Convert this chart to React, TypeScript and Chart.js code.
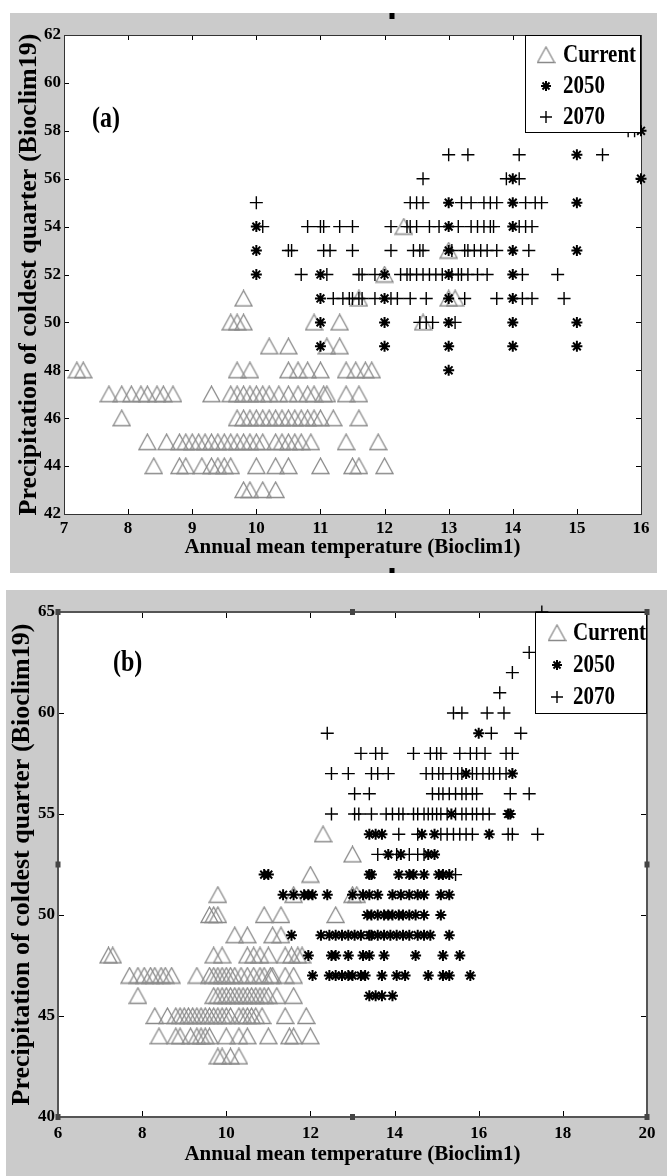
import React, { useEffect, useRef } from 'react';
import { Chart, registerables } from 'chart.js';

Chart.register(...registerables);

type Row = [number, number[]]; // [precipitation value, temperatures at that value]

// ---------------- data ----------------
const currentRows: Row[] = [
  [43, [9.8, 9.9, 10.1, 10.3]],
  [44, [8.4, 8.8, 8.9, 9.15, 9.3, 9.4, 9.5, 9.6, 10.0, 10.3, 10.5, 11.0, 11.5, 11.6, 12.0]],
  [45, [8.3, 8.6, 8.8, 8.9, 9.0, 9.1, 9.2, 9.3, 9.4, 9.5, 9.6, 9.7, 9.8, 9.9, 10.0, 10.1, 10.3, 10.4, 10.5, 10.6, 10.7, 10.85, 11.4, 11.9]],
  [46, [7.9, 9.7, 9.8, 9.9, 10.0, 10.1, 10.2, 10.3, 10.4, 10.5, 10.6, 10.7, 10.8, 10.9, 11.0, 11.2, 11.6]],
  [47, [7.7, 7.9, 8.05, 8.2, 8.3, 8.45, 8.55, 8.7, 9.3, 9.6, 9.7, 9.8, 9.9, 10.0, 10.1, 10.2, 10.35, 10.5, 10.65, 10.8, 10.9, 11.05, 11.1, 11.4, 11.6]],
  [48, [7.2, 7.3, 9.7, 9.9, 10.5, 10.65, 10.8, 11.0, 11.4, 11.55, 11.7, 11.8]],
  [49, [10.2, 10.5, 11.1, 11.3]],
  [50, [9.6, 9.7, 9.8, 10.9, 11.3, 12.6]],
  [51, [9.8, 11.6, 13.0, 13.1]],
  [52, [12.0]],
  [53, [13.0]],
  [54, [12.3]],
];

const a2050Rows: Row[] = [
  [48, [13.0]],
  [49, [11.0, 12.0, 13.0, 14.0, 15.0]],
  [50, [11.0, 12.0, 13.0, 14.0, 15.0]],
  [51, [11.0, 12.0, 13.0, 14.0]],
  [52, [10.0, 11.0, 12.0, 13.0, 14.0]],
  [53, [10.0, 13.0, 14.0, 15.0]],
  [54, [10.0, 13.0, 14.0]],
  [55, [13.0, 14.0, 15.0]],
  [56, [14.0, 16.0]],
  [57, [15.0]],
  [58, [16.0]],
];

const a2070Rows: Row[] = [
  [50, [12.55, 12.65, 12.75, 13.1]],
  [51, [11.2, 11.35, 11.45, 11.5, 11.6, 11.65, 11.85, 12.1, 12.2, 12.4, 12.65, 13.25, 13.75, 14.15, 14.3, 14.8]],
  [52, [10.7, 11.1, 11.6, 11.65, 11.85, 12.25, 12.35, 12.4, 12.5, 12.6, 12.7, 12.8, 12.9, 13.05, 13.15, 13.2, 13.3, 13.45, 13.6, 14.15, 14.7]],
  [53, [10.5, 10.55, 11.05, 11.15, 11.5, 12.1, 12.45, 12.55, 12.6, 13.05, 13.25, 13.3, 13.4, 13.5, 13.6, 13.75, 14.25]],
  [54, [10.1, 10.8, 11.0, 11.05, 11.3, 11.5, 12.1, 12.35, 12.4, 12.5, 12.7, 12.85, 13.15, 13.35, 13.45, 13.55, 13.65, 13.7, 14.1, 14.2, 14.3]],
  [55, [10.0, 12.4, 12.5, 12.6, 13.2, 13.35, 13.55, 13.65, 13.75, 14.2, 14.35, 14.45]],
  [56, [12.6, 13.9, 14.1]],
  [57, [13.0, 13.3, 14.1, 15.4]],
  [58, [15.8, 15.9]],
];

const b2050Rows: Row[] = [
  [46, [13.4, 13.55, 13.7, 13.95]],
  [47, [12.05, 12.45, 12.6, 12.75, 12.9, 13.0, 13.2, 13.3, 13.7, 14.05, 14.25, 14.8, 15.15, 15.3, 15.8]],
  [48, [11.95, 12.5, 12.6, 12.9, 13.25, 13.4, 13.75, 14.5, 15.15, 15.55]],
  [49, [11.55, 12.25, 12.45, 12.6, 12.75, 12.9, 13.05, 13.2, 13.4, 13.45, 13.6, 13.75, 13.9, 14.05, 14.2, 14.35, 14.55, 14.7, 14.85, 15.3]],
  [50, [13.35, 13.45, 13.6, 13.75, 13.85, 13.95, 14.1, 14.2, 14.35, 14.5, 14.7, 15.1]],
  [51, [11.35, 11.6, 11.85, 11.95, 12.05, 12.4, 13.0, 13.25, 13.4, 13.6, 13.95, 14.15, 14.35, 14.55, 14.7, 15.1, 15.3]],
  [52, [10.9, 11.0, 13.4, 13.45, 14.1, 14.35, 14.45, 14.7, 15.05, 15.15, 15.3]],
  [53, [13.85, 14.15, 14.8, 14.95]],
  [54, [13.4, 13.55, 13.7, 14.65, 14.95, 16.25]],
  [55, [15.35, 16.7, 16.75]],
  [57, [15.7, 16.8]],
  [59, [16.0]],
];

const b2070Rows: Row[] = [
  [52, [15.45]],
  [53, [13.6, 14.05, 14.35, 14.55, 14.7]],
  [54, [14.1, 14.55, 15.1, 15.25, 15.4, 15.55, 15.7, 15.85, 16.7, 16.8, 17.4]],
  [55, [12.5, 13.05, 13.15, 13.45, 13.8, 13.95, 14.1, 14.2, 14.45, 14.55, 14.7, 14.8, 14.9, 15.0, 15.1, 15.25, 15.45, 15.6, 15.7, 15.85, 15.95, 16.1, 16.25]],
  [56, [13.05, 13.4, 14.9, 15.05, 15.15, 15.3, 15.45, 15.6, 15.7, 15.85, 15.95, 16.75, 17.2]],
  [57, [12.5, 12.9, 13.45, 13.6, 13.85, 14.75, 14.9, 15.05, 15.15, 15.35, 15.5, 15.6, 15.85, 15.95, 16.1, 16.25, 16.35, 16.5, 16.65]],
  [58, [13.2, 13.55, 13.7, 14.45, 14.85, 15.0, 15.1, 15.55, 15.8, 15.95, 16.15, 16.65, 16.8]],
  [59, [12.4, 16.3, 17.0]],
  [60, [15.4, 15.6, 16.2, 16.6]],
  [61, [16.5]],
  [62, [16.8]],
  [63, [17.2]],
  [65, [17.5]],
];

const aXTicks = [7, 8, 9, 10, 11, 12, 13, 14, 15, 16];
const aYTicks = [42, 44, 46, 48, 50, 52, 54, 56, 58, 60, 62];
const bXTicks = [6, 8, 10, 12, 14, 16, 18, 20];
const bYTicks = [40, 45, 50, 55, 60, 65];
const seriesNames = ['Current', '2050', '2070'];
const xAxisTitle = 'Annual mean temperature (Bioclim1)';
const yAxisTitle = 'Precipitation of coldest quarter (Bioclim19)';
const panelLabels = ['(a)', '(b)'];

// ---------------- styling / layout ----------------
const FONT = "'Liberation Serif', 'Times New Roman', serif";
const GRAY_BG = '#cbcbcb';
const MARKER_GRAY = '#8a8a8a';

interface PanelSpec {
  label: string;
  left: number; top: number; width: number; height: number;
  area: { left: number; top: number; right: number; bottom: number };
  xTicks: number[]; yTicks: number[];
  rows2050: Row[]; rows2070: Row[];
  legend: { left: number; top: number; right: number; bottom: number; ys: number[]; symX: number; textX: number };
  labelPos: { x: number; y: number };
  handles: [number, number][];
  handleColor: string;
  borderColor: string; borderWidth: number; tickLen: number;
  xTickPad: number; xTitlePad: number; yTitlePad: number;
}

const panelA: PanelSpec = {
  label: panelLabels[0],
  left: 10, top: 13, width: 647, height: 560,
  area: { left: 64, top: 35, right: 641, bottom: 514 },
  xTicks: aXTicks, yTicks: aYTicks,
  rows2050: a2050Rows, rows2070: a2070Rows,
  legend: { left: 525, top: 35, right: 641, bottom: 133, ys: [55, 86, 117], symX: 546, textX: 563 },
  labelPos: { x: 92, y: 120 },
  handles: [[392, 16], [392, 571]],
  handleColor: '#000',
  borderColor: '#333', borderWidth: 1, tickLen: 5,
  xTickPad: 4, xTitlePad: 13, yTitlePad: 4,
};

const panelB: PanelSpec = {
  label: panelLabels[1],
  left: 6, top: 590, width: 661, height: 586,
  area: { left: 58, top: 612, right: 647, bottom: 1117 },
  xTicks: bXTicks, yTicks: bYTicks,
  rows2050: b2050Rows, rows2070: b2070Rows,
  legend: { left: 535, top: 612, right: 647, bottom: 714, ys: [633, 665, 697], symX: 557, textX: 573 },
  labelPos: { x: 113, y: 664 },
  handles: [[58, 612], [352.5, 612], [647, 612], [58, 864.5], [647, 864.5], [58, 1117], [352.5, 1117], [647, 1117]],
  handleColor: '#444',
  borderColor: '#555', borderWidth: 2, tickLen: 6,
  xTickPad: 6, xTitlePad: 9, yTitlePad: 1,
};

function toPoints(rows: Row[]) {
  return rows.flatMap(([y, xs]) => xs.map((x) => ({ x, y })));
}

function makeTriangle(): HTMLCanvasElement {
  const c = document.createElement('canvas');
  c.width = 19;
  c.height = 18;
  const g = c.getContext('2d')!;
  g.strokeStyle = MARKER_GRAY;
  g.lineWidth = 1.3;
  g.beginPath();
  g.moveTo(9.5, 1);
  g.lineTo(1, 16.5);
  g.lineTo(18, 16.5);
  g.closePath();
  g.stroke();
  return c;
}

function drawStar(ctx: CanvasRenderingContext2D, x: number, y: number, r: number) {
  const d = r * Math.cos(Math.PI / 4);
  ctx.beginPath();
  ctx.moveTo(x - r, y); ctx.lineTo(x + r, y);
  ctx.moveTo(x, y - r); ctx.lineTo(x, y + r);
  ctx.moveTo(x - d, y - d); ctx.lineTo(x + d, y + d);
  ctx.moveTo(x - d, y + d); ctx.lineTo(x + d, y - d);
  ctx.stroke();
}

function drawCross(ctx: CanvasRenderingContext2D, x: number, y: number, r: number) {
  ctx.beginPath();
  ctx.moveTo(x - r, y); ctx.lineTo(x + r, y);
  ctx.moveTo(x, y - r); ctx.lineTo(x, y + r);
  ctx.stroke();
}

function stretchedText(ctx: CanvasRenderingContext2D, text: string, x: number, y: number, sy: number) {
  ctx.save();
  ctx.translate(x, y);
  ctx.scale(1, sy);
  ctx.fillText(text, 0, 0);
  ctx.restore();
}

function makeFramePlugin(spec: PanelSpec, tri: HTMLCanvasElement) {
  const px = (v: number) => v - spec.left;
  const py = (v: number) => v - spec.top;
  return {
    id: 'matlabFrame',
    beforeDraw(chart: any) {
      const { ctx, chartArea: a } = chart;
      ctx.save();
      ctx.fillStyle = GRAY_BG;
      ctx.fillRect(0, 0, chart.width, chart.height);
      ctx.fillStyle = '#fff';
      ctx.fillRect(a.left, a.top, a.right - a.left, a.bottom - a.top);
      ctx.restore();
    },
    beforeDatasetsDraw(chart: any) {
      const { ctx, chartArea: a, scales } = chart;
      ctx.save();
      ctx.strokeStyle = '#000';
      ctx.lineWidth = 1;
      const L = spec.tickLen;
      scales.x.ticks.forEach((t: any) => {
        const xp = Math.round(scales.x.getPixelForValue(t.value)) + 0.5;
        if (xp <= a.left + 1 || xp >= a.right - 1) return;
        ctx.beginPath();
        ctx.moveTo(xp, a.bottom); ctx.lineTo(xp, a.bottom - L);
        ctx.moveTo(xp, a.top); ctx.lineTo(xp, a.top + L);
        ctx.stroke();
      });
      scales.y.ticks.forEach((t: any) => {
        const yp = Math.round(scales.y.getPixelForValue(t.value)) + 0.5;
        if (yp <= a.top + 1 || yp >= a.bottom - 1) return;
        ctx.beginPath();
        ctx.moveTo(a.left, yp); ctx.lineTo(a.left + L, yp);
        ctx.moveTo(a.right, yp); ctx.lineTo(a.right - L, yp);
        ctx.stroke();
      });
      ctx.strokeStyle = spec.borderColor;
      ctx.lineWidth = spec.borderWidth;
      const o = spec.borderWidth % 2 ? 0.5 : 0;
      ctx.strokeRect(a.left + o, a.top + o, a.right - a.left, a.bottom - a.top);
      ctx.restore();
    },
    afterDraw(chart: any) {
      const { ctx } = chart;
      const lg = spec.legend;
      ctx.save();
      ctx.fillStyle = '#fff';
      ctx.fillRect(px(lg.left), py(lg.top), lg.right - lg.left, lg.bottom - lg.top);
      ctx.strokeStyle = '#000';
      ctx.lineWidth = 1;
      ctx.strokeRect(px(lg.left) + 0.5, py(lg.top) + 0.5, lg.right - lg.left - 1, lg.bottom - lg.top - 1);
      const sx = px(lg.symX);
      ctx.drawImage(tri, sx - tri.width / 2, py(lg.ys[0]) - tri.height / 2);
      ctx.strokeStyle = '#000';
      ctx.lineWidth = 2;
      drawStar(ctx, sx, py(lg.ys[1]), 5);
      ctx.lineWidth = 1.4;
      drawCross(ctx, sx, py(lg.ys[2]), 6);
      ctx.fillStyle = '#000';
      ctx.font = `bold 21px ${FONT}`;
      ctx.textAlign = 'left';
      ctx.textBaseline = 'middle';
      seriesNames.forEach((name, i) => stretchedText(ctx, name, px(lg.textX), py(lg.ys[i]), 1.2));
      ctx.font = `bold 24px ${FONT}`;
      stretchedText(ctx, spec.label, px(spec.labelPos.x), py(spec.labelPos.y), 1.2);
      ctx.fillStyle = spec.handleColor;
      spec.handles.forEach(([hx, hy]) => ctx.fillRect(px(hx) - 2.5, py(hy) - 3, 5, 6));
      ctx.restore();
    },
  };
}

function buildConfig(spec: PanelSpec): any {
  const tri = makeTriangle();
  const areaLeft = spec.area.left - spec.left;
  const areaBottom = spec.area.bottom - spec.top;
  const tickFont = { family: FONT, size: 17, weight: 'bold' as const };
  return {
    type: 'scatter',
    data: {
      datasets: [
        {
          label: seriesNames[0], data: toPoints(currentRows), pointStyle: tri, pointRadius: 9,
          borderColor: MARKER_GRAY, backgroundColor: 'rgba(0,0,0,0)', order: 3, clip: false,
        },
        {
          label: seriesNames[1], data: toPoints(spec.rows2050), pointStyle: 'star', pointRadius: 5.5,
          borderColor: '#000', backgroundColor: '#000', pointBorderWidth: 2, order: 2, clip: false,
        },
        {
          label: seriesNames[2], data: toPoints(spec.rows2070), pointStyle: 'cross', pointRadius: 6.5,
          borderColor: '#000', backgroundColor: '#000', pointBorderWidth: 1.4, order: 1, clip: false,
        },
      ],
    },
    options: {
      animation: false,
      responsive: false,
      maintainAspectRatio: false,
      devicePixelRatio: 1,
      events: [],
      layout: {
        padding: {
          left: 0,
          top: spec.area.top - spec.top,
          right: spec.left + spec.width - spec.area.right,
          bottom: 0,
        },
      },
      plugins: { legend: { display: false }, tooltip: { enabled: false } },
      scales: {
        x: {
          type: 'linear',
          position: 'bottom',
          min: spec.xTicks[0],
          max: spec.xTicks[spec.xTicks.length - 1],
          afterBuildTicks: (s: any) => { s.ticks = spec.xTicks.map((value) => ({ value })); },
          afterFit: (s: any) => { s.height = spec.height - areaBottom; },
          grid: { display: false, drawTicks: false },
          border: { display: false },
          ticks: { color: '#000', font: tickFont, padding: spec.xTickPad, maxRotation: 0, autoSkip: false },
          title: {
            display: true, text: xAxisTitle, color: '#000',
            font: { family: FONT, size: 21, weight: 'bold' },
            padding: { top: 0, bottom: spec.xTitlePad },
          },
        },
        y: {
          type: 'linear',
          position: 'left',
          min: spec.yTicks[0],
          max: spec.yTicks[spec.yTicks.length - 1],
          afterBuildTicks: (s: any) => { s.ticks = spec.yTicks.map((value) => ({ value })); },
          afterFit: (s: any) => { s.width = areaLeft; },
          grid: { display: false, drawTicks: false },
          border: { display: false },
          ticks: { color: '#000', font: tickFont, padding: 3, autoSkip: false },
          title: {
            display: true, text: yAxisTitle, color: '#000',
            font: { family: FONT, size: 26, weight: 'bold' },
            padding: { top: spec.yTitlePad, bottom: 0 },
          },
        },
      },
    },
    plugins: [makeFramePlugin(spec, tri)],
  };
}

function Panel({ spec }: { spec: PanelSpec }) {
  const ref = useRef<HTMLCanvasElement>(null);
  useEffect(() => {
    const chart = new Chart(ref.current!, buildConfig(spec));
    return () => chart.destroy();
  }, [spec]);
  return (
    <canvas
      ref={ref}
      width={spec.width}
      height={spec.height}
      style={{ position: 'absolute', left: spec.left, top: spec.top, width: spec.width, height: spec.height }}
    />
  );
}

export default function App() {
  return (
    <div style={{ position: 'absolute', left: 0, top: 0, width: 667, height: 1176, background: '#fff', overflow: 'hidden' }}>
      <Panel spec={panelA} />
      <Panel spec={panelB} />
    </div>
  );
}
